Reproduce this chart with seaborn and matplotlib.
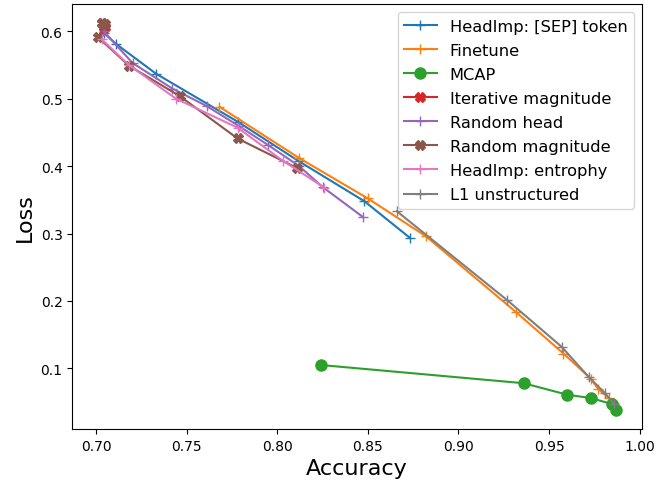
import matplotlib
matplotlib.use("Agg")
import matplotlib.pyplot as plt
import seaborn as sns

# values (accuracy, loss)
sep_acc = [0.704, 0.711, 0.733, 0.778, 0.812, 0.848, 0.873]
sep_loss = [0.598, 0.581, 0.537, 0.466, 0.407, 0.348, 0.294]

ft_acc = [0.768, 0.812, 0.850, 0.882, 0.932, 0.958, 0.973, 0.977, 0.983, 0.986]
ft_loss = [0.488, 0.412, 0.352, 0.296, 0.183, 0.122, 0.085, 0.070, 0.056, 0.048]

mcap_acc = [0.824, 0.936, 0.960, 0.973, 0.985, 0.987]
mcap_loss = [0.105, 0.078, 0.061, 0.056, 0.047, 0.039]

iter_acc = [0.703, 0.705, 0.704, 0.705]
iter_loss = [0.612, 0.612, 0.606, 0.600]

rhead_acc = [0.704, 0.720, 0.742, 0.761, 0.779, 0.795, 0.812, 0.825, 0.847]
rhead_loss = [0.600, 0.553, 0.515, 0.489, 0.459, 0.431, 0.400, 0.369, 0.325]

rmag_acc = [0.703, 0.705, 0.701, 0.718, 0.746, 0.778, 0.811]
rmag_loss = [0.612, 0.611, 0.591, 0.549, 0.504, 0.441, 0.397]

ent_acc = [0.703, 0.718, 0.744, 0.778, 0.803, 0.826]
ent_loss = [0.588, 0.550, 0.500, 0.457, 0.408, 0.368]

l1_acc = [0.866, 0.927, 0.957, 0.972, 0.981, 0.986]
l1_loss = [0.333, 0.201, 0.132, 0.087, 0.063, 0.047]

series = [
    ("HeadImp: [SEP] token", sep_acc, sep_loss, "+"),
    ("Finetune", ft_acc, ft_loss, "+"),
    ("MCAP", mcap_acc, mcap_loss, "o"),
    ("Iterative magnitude", iter_acc, iter_loss, "X"),
    ("Random head", rhead_acc, rhead_loss, "+"),
    ("Random magnitude", rmag_acc, rmag_loss, "X"),
    ("HeadImp: entrophy", ent_acc, ent_loss, "+"),
    ("L1 unstructured", l1_acc, l1_loss, "+"),
]
colors = sns.color_palette("tab10")
sizes = {"+": 7, "o": 8, "X": 7}

fig, ax = plt.subplots(figsize=(6.57, 4.89), dpi=100)
for (name, acc, loss, mk), c in zip(series, colors):
    sns.lineplot(x=acc, y=loss, ax=ax, sort=False, label=name, color=c,
                 marker=mk, markersize=sizes[mk], markeredgecolor=c,
                 markeredgewidth=1.0, linewidth=1.5)

ax.set_xlabel("Accuracy", fontsize=16)
ax.set_ylabel("Loss", fontsize=16)
ax.legend(loc="upper right", fontsize=11.7, labelspacing=0.56)
fig.subplots_adjust(left=0.11, right=0.977, top=0.99, bottom=0.121)
fig.savefig("out.png", dpi=100)
